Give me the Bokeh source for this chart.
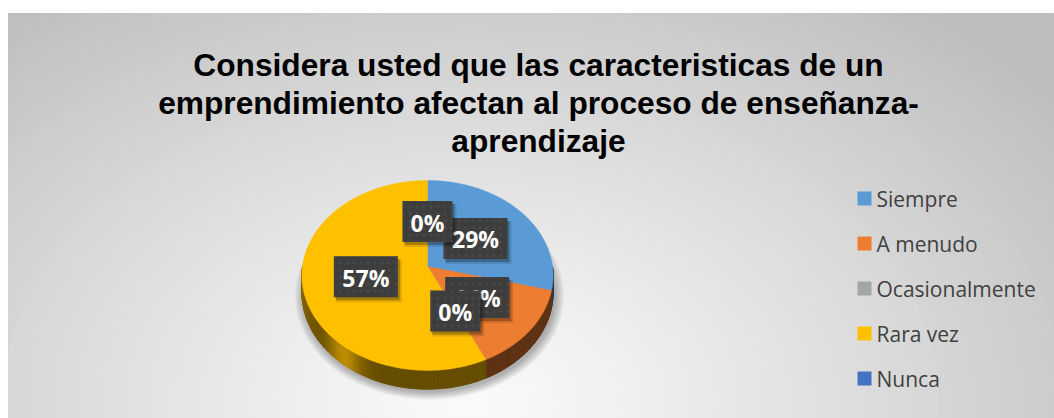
import math
from bokeh.plotting import figure
from bokeh.models import Range1d
from bokeh.core.properties import value
from bokeh.embed import file_html
from bokeh.resources import INLINE

# ---------------- data ----------------
title_lines = ["Considera usted que las caracteristicas de un",
               "emprendimiento afectan al proceso de enseñanza-",
               "aprendizaje"]
categories = ["Siempre", "A menudo", "Ocasionalmente", "Rara vez", "Nunca"]
percent = [29, 14, 0, 57, 0]
colors = ["#5B9BD5", "#ED7D31", "#A5A5A5", "#FFC000", "#4472C4"]

# ---------------- layout / style ----------------
W, H = 1054, 418
X0, X1 = 8, 1054
Y_TOP, Y_BOT = 13, 418
CX, CY = 427, 266          # pie apex (screen px)
RX, RY = 125.0, 94.1       # pie radii
K = 0.0946                 # perspective factor
DEPTH = 17.0               # pie thickness


def proj(theta_deg, r=1.0, drop=0.0):
    t = math.radians(theta_deg)
    u = r * math.sin(t)
    v = r * math.cos(t)
    f = 1.0 / (1.0 + K * v)
    return CX + RX * u * f, CY - RY * v * f + drop * f


def hexcol(rgb):
    return "#%02x%02x%02x" % tuple(max(0, min(255, int(round(c)))) for c in rgb)


def to_rgb(h):
    h = h.lstrip("#")
    return [int(h[i:i + 2], 16) for i in (0, 2, 4)]


p = figure(width=W, height=H, x_range=Range1d(X0, X1), y_range=Range1d(Y_BOT, Y_TOP),
           x_axis_location=None, y_axis_location=None, toolbar_location=None,
           output_backend="svg", min_border_left=X0, min_border_right=0,
           min_border_top=Y_TOP, min_border_bottom=0)
p.xgrid.visible = False
p.ygrid.visible = False
p.border_fill_color = "white"
p.outline_line_color = "#bfbfbf"

# ---------------- background radial gradient ----------------
N = 60
gx, gy, gw, gh, gc = [], [], [], [], []
for k in range(N, 0, -1):
    t = k / N
    g = 250 - 60 * t ** 1.15
    gx.append(470); gy.append(400)
    gw.append(2 * 740 * t); gh.append(2 * 500 * t)
    gc.append(hexcol((g, g, g)))
p.background_fill_color = hexcol((190, 190, 190))
p.ellipse(x=gx, y=gy, width=gw, height=gh, fill_color=gc, line_color=None)

# ---------------- pie geometry ----------------
cum = [0.0]
for v in percent:
    cum.append(cum[-1] + v * 360.0 / sum(percent))

# soft shadow
base = [proj(a, 1.0, DEPTH) for a in range(0, 361, 3)]
bcx, bcy = CX + 2, CY + DEPTH + 3
sx, sy = [], []
for k in range(10):
    s = 1 + k / RX
    sx.append([bcx + (x - CX) * s for x, y in base])
    sy.append([bcy + (y - CY - DEPTH) * s for x, y in base])
p.patches(xs=sx, ys=sy, fill_color="black", fill_alpha=0.03, line_color=None)


def side_factor(theta):
    u = math.sin(math.radians(theta))
    f = 0.40 + 0.33 * math.exp(-((u + 0.62) / 0.13) ** 2)
    f += 0.12 * min(1.0, max(0.0, (-u - 0.8) / 0.2))
    return f


qx, qy, qc = [], [], []
for i, v in enumerate(percent):
    if v <= 0:
        continue
    a0, a1 = max(cum[i], 90.0), min(cum[i + 1], 270.0)
    if a1 <= a0:
        continue
    n = max(2, int((a1 - a0) / 1.0))
    angs = [a0 + (a1 - a0) * j / n for j in range(n + 1)]
    rgb = to_rgb(colors[i])
    for j in range(n):
        t0, t1 = angs[j], angs[j + 1]
        p0, p1 = proj(t0), proj(t1)
        q0, q1 = proj(t0, 1, DEPTH), proj(t1, 1, DEPTH)
        qx.append([p0[0], p1[0], q1[0], q0[0]])
        qy.append([p0[1], p1[1], q1[1], q0[1]])
        fct = side_factor((t0 + t1) / 2)
        qc.append(hexcol([c * fct for c in rgb]))
p.patches(xs=qx, ys=qy, fill_color=qc, line_color=qc, line_width=1.0)

# top faces
tx, ty, tc = [], [], []
for i, v in enumerate(percent):
    if v <= 0:
        continue
    a0, a1 = cum[i], cum[i + 1]
    n = max(4, int((a1 - a0) / 1.0))
    pts = [proj(a0 + (a1 - a0) * j / n) for j in range(n + 1)]
    tx.append([CX] + [q[0] for q in pts])
    ty.append([CY] + [q[1] for q in pts])
    tc.append(colors[i])
p.patches(xs=tx, ys=ty, fill_color=tc, line_color=tc, line_width=0.5)

# ---------------- data labels ----------------
for i, v in enumerate(percent):
    mid = (cum[i] + cum[i + 1]) / 2.0
    lx, ly = proj(mid, 0.5)
    txt = "%d%%" % v
    bw = 22 + 14 * len(txt)
    p.rect(x=[lx + 3], y=[ly + 4], width=bw + 2, height=43, width_units="screen",
           height_units="screen", fill_color="black", fill_alpha=0.12, line_color=None)
    p.rect(x=[lx + 2], y=[ly + 3], width=bw, height=41, width_units="screen",
           height_units="screen", fill_color="black", fill_alpha=0.25, line_color=None)
    p.rect(x=[lx], y=[ly], width=bw, height=41, width_units="screen",
           height_units="screen", fill_color="#3d3d3d", line_color=None,
           hatch_pattern="dot", hatch_color="#4e4e4e", hatch_scale=7,
           hatch_weight=0.7, hatch_alpha=0.6)
    p.text(x=[lx], y=[ly + 1], text=[txt], text_font=value("Open Sans"),
           text_font_style="bold", text_font_size="23px", text_color="white",
           text_align="center", text_baseline="middle")

# ---------------- legend ----------------
ly0, lstep = 198, 45
leg_y = [ly0 + i * lstep for i in range(len(categories))]
p.rect(x=[864] * len(categories), y=leg_y, width=14, height=14, fill_color=colors,
       line_color=None)
p.text(x=[876] * len(categories), y=leg_y, text=categories, text_font=value("Open Sans"),
       text_font_size="21px", text_color="#404040", text_baseline="middle")

# ---------------- title ----------------
p.text(x=[538] * 3, y=[64, 102, 140], text=title_lines,
       text_font=value("Liberation Sans"), text_font_style="bold",
       text_font_size="31.7px", text_color="black", text_align="center",
       text_baseline="alphabetic")

open("out.html", "w").write(file_html(p, INLINE))
